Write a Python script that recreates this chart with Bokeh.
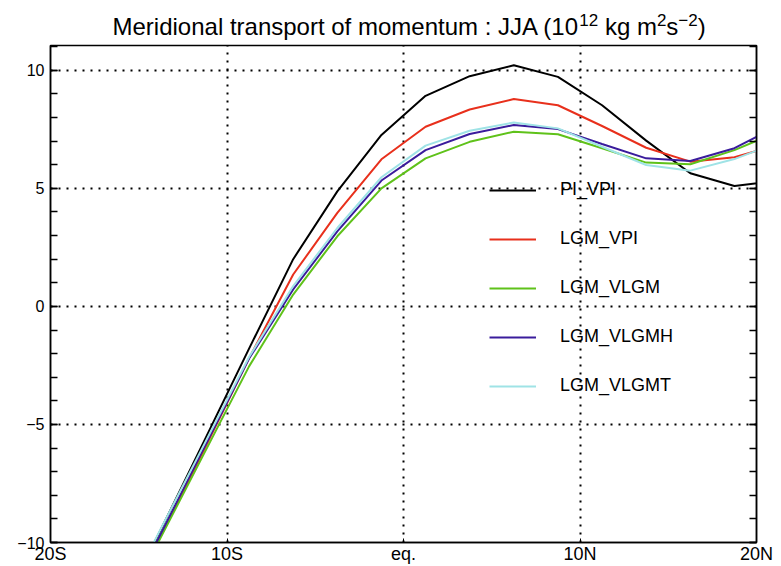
from bokeh.plotting import figure
from bokeh.layouts import column
from bokeh.models import Range1d, LinearAxis, FixedTicker, Legend, LegendItem
from bokeh.core.properties import value
from bokeh.embed import file_html
from bokeh.resources import INLINE

# ---- data ----
lats = [-16.25, -13.75, -11.25, -8.75, -6.25, -3.75, -1.25, 1.25, 3.75,
        6.25, 8.75, 11.25, 13.75, 16.25, 18.75, 21.25]
pi_vpi = [-13.2, -9.46, -5.63, -1.79, 2.0, 4.87, 7.26, 8.92, 9.75,
          10.21, 9.72, 8.52, 7.02, 5.64, 5.10, 5.33]
lgm_vpi = [-13.4, -9.72, -6.0, -2.2, 1.35, 3.96, 6.23, 7.61, 8.34,
           8.78, 8.52, 7.64, 6.72, 6.13, 6.32, 6.85]
lgm_vlgm = [-13.4, -9.78, -6.16, -2.54, 0.5, 2.97, 5.0, 6.27, 6.97,
            7.40, 7.29, 6.70, 6.09, 6.02, 6.62, 7.4]
lgm_vlgmh = [-13.3, -9.63, -5.92, -2.21, 0.72, 3.18, 5.33, 6.62, 7.30,
             7.68, 7.51, 6.88, 6.27, 6.16, 6.70, 7.65]
lgm_vlgmt = [-13.1, -9.42, -5.78, -2.14, 0.86, 3.32, 5.47, 6.81, 7.44,
             7.79, 7.54, 6.76, 5.99, 5.75, 6.24, 6.95]

series_names = ["PI_VPI", "LGM_VPI", "LGM_VLGM", "LGM_VLGMH", "LGM_VLGMT"]
series_vals = [pi_vpi, lgm_vpi, lgm_vlgm, lgm_vlgmh, lgm_vlgmt]
series_colors = ["#000000", "#e8301c", "#5fc21a", "#3a1c9c", "#9fe3e6"]

x_ticks = [-20, -10, 0, 10, 20]
x_tick_labels = ["20S", "10S", "eq.", "10N", "20N"]
y_ticks = [-10, -5, 0, 5, 10]
y_tick_labels = ["\u221210", "\u22125", "0", "5", "10"]
y_minor = list(range(-10, 12))

# title pieces: (text, is_superscript)
title_parts = [("Meridional transport of momentum : JJA (10", False),
               ("12", True), (" kg m", False), ("2", True), ("s", False),
               ("\u22122", True), (")", False)]

FONT = "Liberation Sans"
W, H = 781, 566
TITLE_H = 44
BL, BR = 50, 25          # left / right borders of both figures

# ---------------- title strip ----------------
tf = figure(width=W, height=TITLE_H, x_range=Range1d(BL, W - BR),
            y_range=Range1d(TITLE_H, 0), output_backend="svg",
            toolbar_location=None, min_border_left=BL, min_border_right=BR,
            min_border_top=0, min_border_bottom=0,
            x_axis_type=None, y_axis_type=None)
tf.grid.visible = False
tf.outline_line_color = None
tf.background_fill_color = "white"
tf.border_fill_color = "white"

# Arial / Liberation Sans advance widths (1/1000 em) for laying out the pieces
ADV = {' ': 278, 'M': 833, 'e': 556, 'r': 333, 'i': 222, 'd': 556, 'o': 556,
       'n': 556, 'a': 556, 'l': 222, 't': 278, 's': 500, 'p': 556, 'f': 278,
       'm': 833, 'u': 556, ':': 278, 'J': 500, 'A': 667, '(': 333, ')': 333,
       '0': 556, '1': 556, '2': 556, 'k': 500, 'g': 556, '\u2212': 584}
MAIN_SIZE, SUP_SIZE = 24, 17
MAIN_Y, SUP_Y = 25.5, 19.0     # vertical anchors used by the text glyphs
x_cursor = 112.0
mx, my, mt, sx, sy, st = [], [], [], [], [], []
for txt, sup in title_parts:
    size = SUP_SIZE if sup else MAIN_SIZE
    # leading blanks are collapsed in SVG text: advance the cursor instead
    lead = len(txt) - len(txt.lstrip(" "))
    x_cursor += lead * ADV[' '] / 1000.0 * size
    body = txt.lstrip(" ")
    if sup:
        sx.append(x_cursor); sy.append(SUP_Y); st.append(body)
    else:
        mx.append(x_cursor); my.append(MAIN_Y); mt.append(body)
    x_cursor += sum(ADV.get(c, 556) for c in body) / 1000.0 * size
tf.text(x=mx, y=my, text=mt, text_font=value(FONT),
        text_font_size=value(f"{MAIN_SIZE}px"), text_color="black",
        text_baseline="alphabetic", text_align="left")
tf.text(x=sx, y=sy, text=st, text_font=value(FONT),
        text_font_size=value(f"{SUP_SIZE}px"), text_color="black",
        text_baseline="alphabetic", text_align="left")

# ---------------- main plot ----------------
p = figure(width=W, height=H - TITLE_H, x_range=Range1d(-20, 20),
           y_range=Range1d(-10, 11.05), output_backend="svg",
           toolbar_location=None, min_border_left=BL, min_border_right=BR,
           min_border_top=1, min_border_bottom=22)

p.background_fill_color = "white"
p.border_fill_color = "white"
p.outline_line_color = "black"
p.outline_line_width = 1.5

# x axis
xa = p.xaxis[0]
xa.ticker = FixedTicker(ticks=x_ticks)
xa.major_label_overrides = dict(zip(x_ticks, x_tick_labels))
xa.major_label_text_font = FONT
xa.major_label_text_font_size = "18px"
xa.major_label_text_color = "black"
xa.major_tick_in = 4
xa.major_tick_out = 0
xa.minor_tick_in = 0
xa.minor_tick_out = 0
xa.major_label_standoff = 1
xa.axis_line_color = "black"
xa.axis_line_width = 1.5

# y axis
ya = p.yaxis[0]
ya.ticker = FixedTicker(ticks=y_ticks, minor_ticks=y_minor)
ya.major_label_overrides = dict(zip(y_ticks, y_tick_labels))
ya.major_label_text_font = FONT
ya.major_label_text_font_size = "16px"
ya.major_label_text_color = "black"
ya.major_tick_in = 7
ya.major_tick_out = 0
ya.minor_tick_in = 7
ya.minor_tick_out = 0
ya.major_label_standoff = 6
ya.axis_line_color = "black"
ya.axis_line_width = 1.5
ya.major_tick_line_width = 1.5
ya.minor_tick_line_width = 1.5

# right axis with inward ticks, no labels
ra = LinearAxis(ticker=FixedTicker(ticks=y_ticks, minor_ticks=y_minor))
ra.major_label_text_color = None
ra.major_tick_in = 7
ra.major_tick_out = 0
ra.minor_tick_in = 7
ra.minor_tick_out = 0
ra.axis_line_color = "black"
ra.axis_line_width = 1.5
ra.major_tick_line_width = 1.5
ra.minor_tick_line_width = 1.5
p.add_layout(ra, "right")

# dotted grid
p.xgrid.ticker = FixedTicker(ticks=[-10, 0, 10])
p.ygrid.ticker = FixedTicker(ticks=y_ticks)
for g in (p.xgrid[0], p.ygrid[0]):
    g.grid_line_color = "black"
    g.grid_line_dash = "2 6"
    g.grid_line_width = 2

items = []
for name, vals, col in zip(series_names, series_vals, series_colors):
    r = p.line(lats, vals, line_color=col, line_width=2)
    items.append(LegendItem(label=name, renderers=[r]))

legend = Legend(items=items, location=(439, 146), orientation="vertical",
                glyph_width=47, glyph_height=20, label_height=20, spacing=28,
                padding=0, margin=0, label_standoff=24,
                label_text_font=FONT, label_text_font_size="18px",
                label_text_color="black",
                border_line_color=None, background_fill_alpha=0)
p.add_layout(legend)

open("out.html", "w").write(file_html(column(tf, p, spacing=0), INLINE))
